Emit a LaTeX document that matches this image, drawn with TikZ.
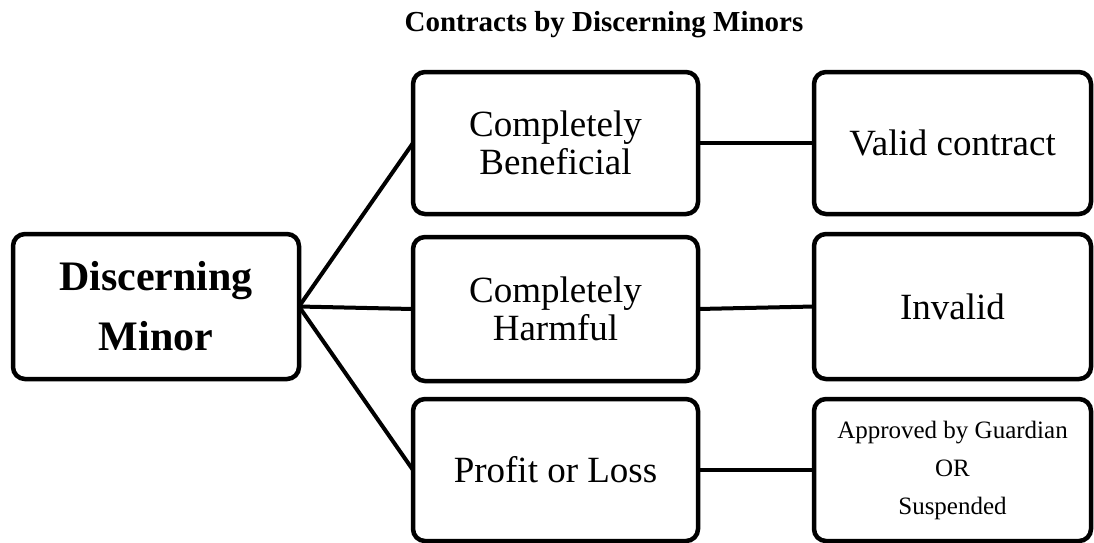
\documentclass[tikz,border=0pt]{standalone}
\usepackage{fontspec}
\setmainfont{Liberation Serif}
\begin{document}
\begin{tikzpicture}[x=1pt,y=-1pt,
  box/.style={draw=black, line width=4.5pt, rounded corners=12pt, fill=white,
    rectangle, inner sep=0pt, outer sep=0pt, align=center},
  link/.style={line width=4pt}]
\useasboundingbox (0,0) rectangle (1094,542);
\node[anchor=base, font=\fontsize{29}{34}\selectfont\bfseries] (title) at (604,31) {Contracts by Discerning Minors};
\node[box, minimum width=286pt, minimum height=145pt, font=\fontsize{42}{60}\selectfont\bfseries] (dm) at (156,306.5) {Discerning\\Minor};
\node[box, minimum width=285pt, minimum height=142pt, font=\fontsize{37}{38}\selectfont] (cb) at (555.5,143) {Completely\\Beneficial};
\node[box, minimum width=285pt, minimum height=144pt, font=\fontsize{37}{38}\selectfont] (ch) at (555.5,309) {Completely\\Harmful};
\node[box, minimum width=285pt, minimum height=142pt, font=\fontsize{37}{38}\selectfont] (pl) at (555.5,470) {Profit or Loss};
\node[box, minimum width=277pt, minimum height=142pt, font=\fontsize{37}{38}\selectfont] (vc) at (952.5,143) {Valid contract};
\node[box, minimum width=277pt, minimum height=145pt, font=\fontsize{37}{38}\selectfont] (iv) at (952.5,306.5) {Invalid};
\node[box, minimum width=277pt, minimum height=142pt, font=\fontsize{25}{38}\selectfont] (ag) at (952.5,470) {Approved by Guardian\\OR\\Suspended};
\draw[link] (dm.east) -- (cb.west);
\draw[link] (dm.east) -- (ch.west);
\draw[link] (dm.east) -- (pl.west);
\draw[link] (cb.east) -- (vc.west);
\draw[link] (ch.east) -- (iv.west);
\draw[link] (pl.east) -- (ag.west);
\end{tikzpicture}
\end{document}
